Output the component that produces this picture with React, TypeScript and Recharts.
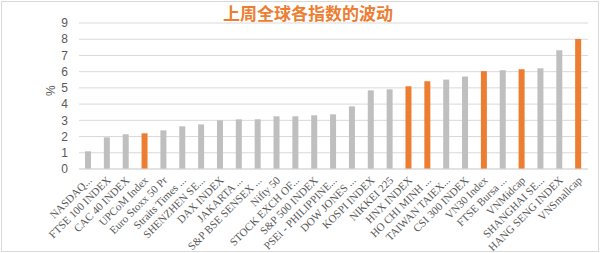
import { BarChart, Bar, XAxis, YAxis, CartesianGrid, Cell } from "recharts";

const indexNames = [
  "NASDAQ...",
  "FTSE 100 INDEX",
  "CAC 40 INDEX",
  "UPCoM Index",
  "Euro Stoxx 50 Pr",
  "Straits Times ...",
  "SHENZHEN SE...",
  "DAX INDEX",
  "JAKARTA ...",
  "S&P BSE SENSEX ...",
  "Nifty 50",
  "STOCK EXCH OF...",
  "S&P 500 INDEX",
  "PSEi - PHILIPPINE...",
  "DOW JONES ...",
  "KOSPI INDEX",
  "NIKKEI 225",
  "HNX INDEX",
  "HO CHI MINH ...",
  "TAIWAN TAIEX...",
  "CSI 300 INDEX",
  "VN30 Index",
  "FTSE Bursa ...",
  "VNMidcap",
  "SHANGHAI SE...",
  "HANG SENG INDEX",
  "VNSmallcap",
];

const changes = [
  1.09, 1.95, 2.14, 2.2, 2.38, 2.63, 2.75, 3.0, 3.06, 3.06, 3.25, 3.25, 3.31,
  3.37, 3.86, 4.85, 4.91, 5.1, 5.41, 5.51, 5.7, 6.03, 6.09, 6.15, 6.21, 7.32,
  8.02,
];

// Vietnamese indices are highlighted
const highlighted = [
  "UPCoM Index",
  "HNX INDEX",
  "HO CHI MINH ...",
  "VN30 Index",
  "VNMidcap",
  "VNSmallcap",
];

const yTicks = [0, 1, 2, 3, 4, 5, 6, 7, 8, 9];

const data = indexNames.map((name, i) => ({ name, value: changes[i] }));

const ORANGE = "#ED7D31";
const GREY = "#BFBFBF";

function AngledTick(props: any) {
  const { x, y, payload } = props;
  return (
    <g transform={`translate(${x + 4},${y + 4})`}>
      <text
        textAnchor="end"
        transform="rotate(-45)"
        fontSize={11}
        fill="#595959"
        fontFamily="'Liberation Serif', serif"
      >
        {payload.value}
      </text>
    </g>
  );
}

export default function App() {
  return (
    <div style={{ position: "absolute", left: 0, top: 0, width: 602, height: 253, background: "#fff" }}>
      <div
        style={{
          position: "absolute",
          left: 1,
          top: 1,
          width: 596,
          height: 249,
          border: "1px solid #D9D9D9",
        }}
      />
      <div
        style={{
          position: "absolute",
          left: 0,
          top: 3,
          width: 616,
          textAlign: "center",
          fontFamily: "'Noto Sans CJK SC', sans-serif",
          fontWeight: 700,
          fontSize: 17,
          color: ORANGE,
          lineHeight: "20px",
        }}
      >
        上周全球各指数的波动
      </div>
      <div style={{ position: "absolute", left: 0, top: 0 }}>
        <BarChart
          width={602}
          height={253}
          data={data}
          margin={{ top: 23, right: 14, left: 9, bottom: 4 }}
          barCategoryGap={0}
        >
          <CartesianGrid vertical={false} stroke="#D9D9D9" />
          <XAxis
            dataKey="name"
            interval={0}
            tickLine={false}
            axisLine={{ stroke: "#D9D9D9" }}
            height={80}
            tick={<AngledTick />}
          />
          <YAxis
            domain={[0, 9]}
            ticks={yTicks}
            interval={0}
            width={70}
            tickLine={false}
            axisLine={false}
            tickMargin={5}
            tick={{ fontSize: 12, fill: "#595959", fontFamily: "'Liberation Sans', sans-serif" }}
            label={{
              value: "%",
              angle: -90,
              position: "insideLeft",
              offset: 42,
              fill: "#595959",
              fontSize: 12,
              fontFamily: "'Liberation Sans', sans-serif",
            }}
          />
          <Bar dataKey="value" barSize={6} isAnimationActive={false}>
            {data.map((d) => (
              <Cell key={d.name} fill={highlighted.includes(d.name) ? ORANGE : GREY} />
            ))}
          </Bar>
        </BarChart>
      </div>
    </div>
  );
}
